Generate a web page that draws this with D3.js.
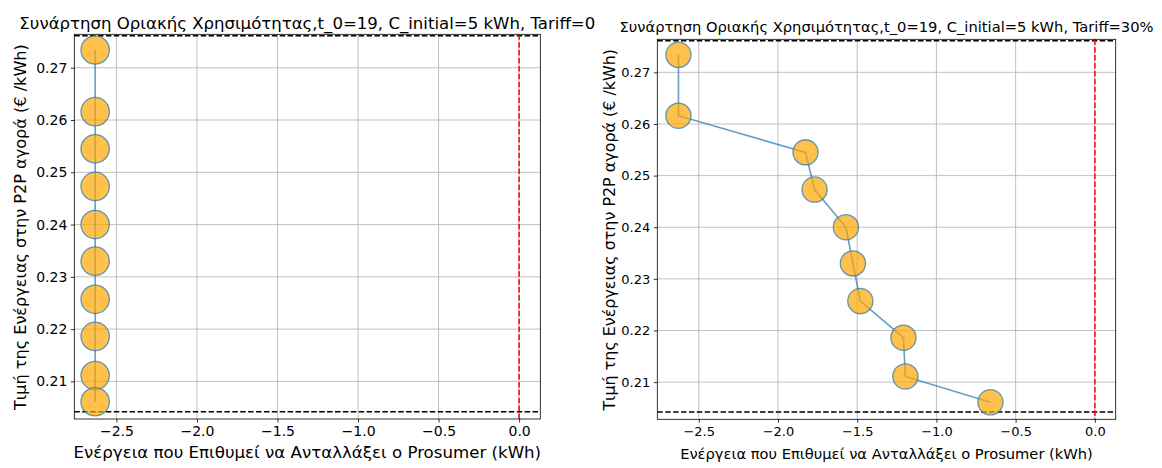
<!DOCTYPE html>
<html>
<head>
<meta charset="utf-8">
<script src="https://cdn.jsdelivr.net/npm/d3@7"></script>
<style>
  html, body { margin: 0; padding: 0; background: #fff; }
  svg { display: block; font-family: "DejaVu Sans", sans-serif; }
</style>
</head>
<body>
<svg id="chart" width="1162" height="468"></svg>
<script>
// Price levels of the P2P market (€/kWh), highest to lowest
const priceLevels = [0.2734, 0.2616, 0.2545, 0.2473, 0.2400, 0.2330, 0.2257, 0.2186, 0.2111, 0.2061];

// Energy the prosumer wants to trade at each price level (kWh)
const energyTariff0 = [-2.632, -2.632, -2.632, -2.632, -2.632, -2.632, -2.632, -2.632, -2.632, -2.632];
const energyTariff30 = [-2.628, -2.628, -1.826, -1.769, -1.571, -1.527, -1.480, -1.208, -1.196, -0.659];

// Reference lines: upper / lower price bounds and zero energy
const priceBounds = [0.2761, 0.2042];
const zeroEnergy = [0];

// Axis ticks
const xTicks = [-2.5, -2.0, -1.5, -1.0, -0.5, 0.0];
const yTicks = [0.21, 0.22, 0.23, 0.24, 0.25, 0.26, 0.27];

const xDomain = [-2.7615, 0.1315];
const yDomain = [0.2028, 0.2764];

const titles = [
  "Συνάρτηση Οριακής Χρησιμότητας,t_0=19, C_initial=5 kWh, Tariff=0",
  "Συνάρτηση Οριακής Χρησιμότητας,t_0=19, C_initial=5 kWh, Tariff=30%"
];
const xLabel = "Ενέργεια που Επιθυμεί να Ανταλλάξει ο Prosumer (kWh)";
const yLabel = "Τιμή της Ενέργειας στην P2P αγορά (€ /kWh)";

const svg = d3.select("#chart");

// scale a text element's font size so its rendered length equals `target`
function fitText(sel, target) {
  const base = 12;
  sel.attr("font-size", base);
  const w = sel.node().getComputedTextLength();
  sel.attr("font-size", (base * target / w).toFixed(2));
  return sel;
}

const panels = [
  {
    energy: energyTariff0, title: titles[0],
    box: { x: 74.3, y: 34.3, w: 466, h: 384.7 },
    titleW: 576, titleY: 28.5, xlabW: 468, xlabY: 458,
    ylabW: 366, ylabX: 25.5, tickFont: 14, r: 14.2
  },
  {
    energy: energyTariff30, title: titles[1],
    box: { x: 657.3, y: 39.3, w: 458.4, h: 380 },
    titleW: 534, titleY: 31.5, xlabW: 413, xlabY: 459,
    ylabW: 362, ylabX: 615, tickFont: 13, r: 12.6
  }
];

panels.forEach(p => {
  const b = p.box;
  const x = d3.scaleLinear().domain(xDomain).range([b.x, b.x + b.w]);
  const y = d3.scaleLinear().domain(yDomain).range([b.y + b.h, b.y]);
  const g = svg.append("g");

  // grid
  g.append("g").selectAll("line").data(xTicks).join("line")
    .attr("x1", d => x(d)).attr("x2", d => x(d))
    .attr("y1", b.y).attr("y2", b.y + b.h)
    .attr("stroke", "#b0b0b0").attr("stroke-width", 0.8);
  g.append("g").selectAll("line").data(yTicks).join("line")
    .attr("x1", b.x).attr("x2", b.x + b.w)
    .attr("y1", d => y(d)).attr("y2", d => y(d))
    .attr("stroke", "#b0b0b0").attr("stroke-width", 0.8);

  // price bounds
  g.append("g").selectAll("line").data(priceBounds).join("line")
    .attr("x1", b.x).attr("x2", b.x + b.w)
    .attr("y1", d => y(d)).attr("y2", d => y(d))
    .attr("stroke", "#000").attr("stroke-width", 1.5)
    .attr("stroke-dasharray", "5.5,2.4");

  // zero-energy line
  g.append("g").selectAll("line").data(zeroEnergy).join("line")
    .attr("x1", d => x(d)).attr("x2", d => x(d))
    .attr("y1", b.y).attr("y2", b.y + b.h)
    .attr("stroke", "#ff0000").attr("stroke-width", 1.5)
    .attr("stroke-dasharray", "5.5,2.4");

  // curve + markers
  const pts = priceLevels.map((v, i) => ({ e: p.energy[i], v }));
  const line = d3.line().x(d => x(d.e)).y(d => y(d.v));
  g.append("path").datum(pts).attr("d", line)
    .attr("fill", "none").attr("stroke", "#1f77b4")
    .attr("stroke-width", 1.6).attr("stroke-opacity", 0.7);
  g.append("g").selectAll("circle").data(pts).join("circle")
    .attr("cx", d => x(d.e)).attr("cy", d => y(d.v)).attr("r", p.r)
    .attr("fill", "#ffa500").attr("fill-opacity", 0.7)
    .attr("stroke", "#1f77b4").attr("stroke-opacity", 0.7).attr("stroke-width", 1.3);

  // axes
  const xAxis = d3.axisBottom(x).tickValues(xTicks).tickFormat(d3.format(".1f"))
    .tickSizeInner(3.5).tickSizeOuter(0).tickPadding(3.5);
  const yAxis = d3.axisLeft(y).tickValues(yTicks).tickFormat(d3.format(".2f"))
    .tickSizeInner(3.5).tickSizeOuter(0).tickPadding(3.5);
  const gx = g.append("g").attr("transform", `translate(0,${b.y + b.h})`).call(xAxis);
  const gy = g.append("g").attr("transform", `translate(${b.x},0)`).call(yAxis);
  [gx, gy].forEach(ax => {
    ax.select(".domain").remove();
    ax.selectAll(".tick line").attr("stroke", "#000").attr("stroke-width", 0.8);
    ax.selectAll(".tick text").attr("fill", "#000")
      .attr("font-size", p.tickFont).attr("font-family", "DejaVu Sans");
  });

  // frame
  g.append("rect").attr("x", b.x).attr("y", b.y).attr("width", b.w).attr("height", b.h)
    .attr("fill", "none").attr("stroke", "#000").attr("stroke-width", 0.8);

  // title and axis labels
  const cx = b.x + b.w / 2;
  fitText(g.append("text").attr("x", cx).attr("y", p.titleY)
    .attr("text-anchor", "middle").attr("fill", "#000").text(p.title), p.titleW);
  fitText(g.append("text").attr("x", cx).attr("y", p.xlabY)
    .attr("text-anchor", "middle").attr("fill", "#000").text(xLabel), p.xlabW);
  fitText(g.append("text")
    .attr("transform", `translate(${p.ylabX},${b.y + b.h / 2 + 0.5}) rotate(-90)`)
    .attr("text-anchor", "middle").attr("fill", "#000").text(yLabel), p.ylabW);
});
</script>
</body>
</html>
